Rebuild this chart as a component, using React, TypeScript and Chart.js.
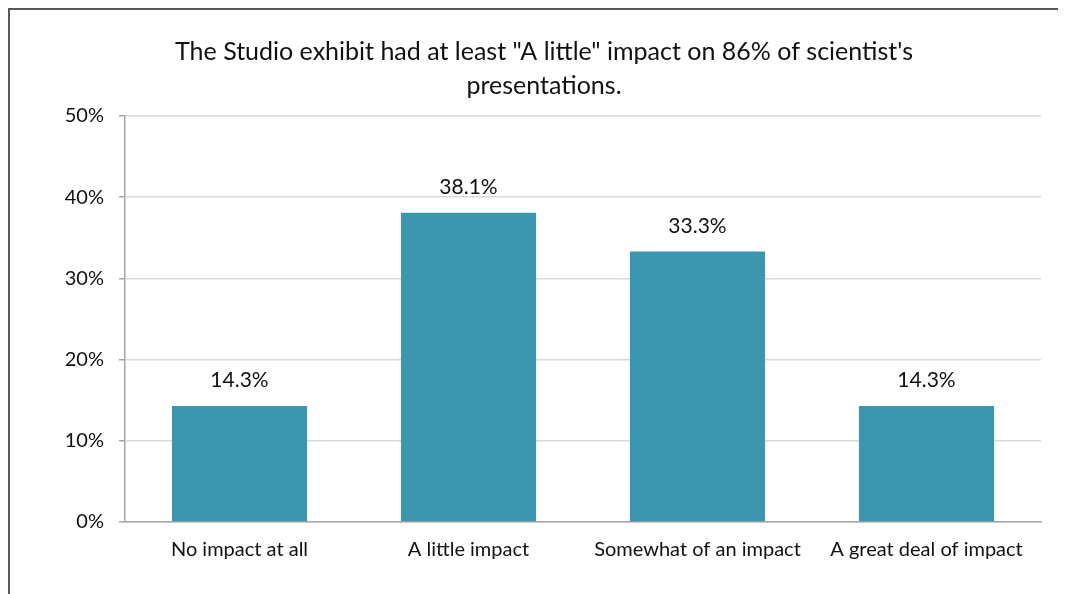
import React, { useEffect, useRef } from "react";
import { Chart, registerables } from "chart.js";

Chart.register(...registerables);

const categories = ["No impact at all", "A little impact", "Somewhat of an impact", "A great deal of impact"];
const values = [14.3, 38.1, 33.3, 14.3];
const titleLines = ["The Studio exhibit had at least \"A little\" impact on 86% of scientist's", "presentations."];
const yTicks = [0, 10, 20, 30, 40, 50];

const FONT = "Lato, 'Open Sans', sans-serif";
const BAR_COLOR = "#3c96ad";

const dataLabelPlugin = {
  id: "dataLabels",
  afterDatasetsDraw(chart: any) {
    const ctx = chart.ctx;
    const meta = chart.getDatasetMeta(0);
    ctx.save();
    ctx.font = `21px ${FONT}`;
    ctx.fillStyle = "#111";
    ctx.textAlign = "center";
    ctx.textBaseline = "alphabetic";
    meta.data.forEach((bar: any, i: number) => {
      ctx.fillText(values[i].toFixed(1) + "%", bar.x, bar.y - 19);
    });
    ctx.restore();
  },
};

export default function App() {
  const ref = useRef<HTMLCanvasElement>(null);
  useEffect(() => {
    if (!ref.current) return;
    const chart = new Chart(ref.current, {
      type: "bar",
      data: {
        labels: categories,
        datasets: [
          {
            data: values,
            backgroundColor: BAR_COLOR,
            categoryPercentage: 1,
            barPercentage: 0.59,
          },
        ],
      },
      plugins: [dataLabelPlugin],
      options: {
        responsive: false,
        animation: false,
        layout: { padding: { left: 37, right: 25, top: 0, bottom: 0 } },
        plugins: {
          legend: { display: false },
          tooltip: { enabled: false },
          title: {
            display: true,
            text: titleLines,
            color: "#111",
            font: { family: FONT, size: 25, weight: "normal", lineHeight: "34px" },
            padding: { top: 25, bottom: 13 },
          },
        },
        scales: {
          x: {
            grid: { display: false, drawTicks: false },
            border: { display: true, color: "#a6a6a6", width: 1.5 },
            ticks: { color: "#111", font: { family: FONT, size: 20 }, padding: 16, maxRotation: 0 },
            afterFit(scale: any) {
              scale.height = 72;
            },
          },
          y: {
            min: 0,
            max: 50,
            afterBuildTicks(scale: any) {
              scale.ticks = yTicks.map((v) => ({ value: v }));
            },
            grid: { color: "#d9d9d9", lineWidth: 1.5, tickLength: 6, tickColor: "#a6a6a6" },
            border: { display: true, color: "#a6a6a6", width: 1.5 },
            ticks: {
              color: "#111",
              font: { family: FONT, size: 20 },
              padding: 15,
              callback: (v: any) => v + "%",
            },
            afterFit(scale: any) {
              scale.width = 78;
            },
          },
        },
      } as any,
    });
    return () => chart.destroy();
  }, []);

  return (
    <div
      style={{
        width: 1056,
        height: 584,
        overflow: "hidden",
        borderLeft: "2px solid #595959",
        borderTop: "2px solid #595959",
        background: "#fff",
      }}
    >
      <canvas ref={ref} width={1056} height={584} style={{ display: "block" }} />
    </div>
  );
}
